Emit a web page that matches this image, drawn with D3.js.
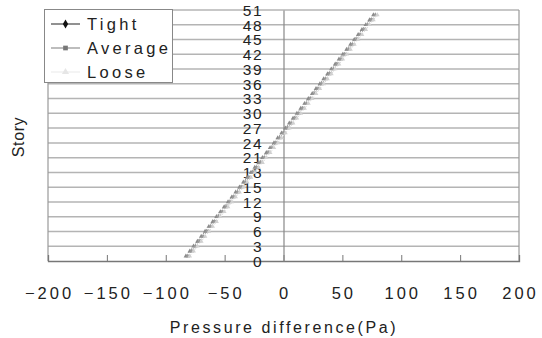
<!DOCTYPE html>
<html><head><meta charset="utf-8">
<script src="https://cdn.jsdelivr.net/npm/d3@7"></script>
<style>
html,body{margin:0;padding:0;background:#fff;}
text{font-family:"Liberation Sans",Arial,sans-serif;fill:#222;}
</style></head>
<body><svg id="c" width="542" height="338"></svg>
<script>
const stories = [1,2,3,4,5,6,7,8,9,10,11,12,13,14,15,16,17,18,19,20,21,22,23,24,25,26,27,28,29,30,31,32,33,34,35,36,37,38,39,40,41,42,43,44,45,46,47,48,49,50];
const tight = [-82.9,-79.6,-76.4,-73.1,-69.9,-66.6,-63.4,-60.1,-56.9,-53.6,-50.4,-47.1,-43.9,-40.6,-37.4,-34.1,-30.9,-27.6,-24.4,-21.1,-17.9,-14.6,-11.4,-8.1,-4.9,-1.6,1.6,4.9,8.1,11.4,14.6,17.9,21.1,24.4,27.6,30.9,34.1,37.4,40.6,43.9,47.1,50.4,53.6,56.9,60.1,63.4,66.6,69.9,73.1,76.4];
const average = [-81.3,-78.0,-74.8,-71.5,-68.3,-65.0,-61.8,-58.5,-55.3,-52.0,-48.8,-45.5,-42.3,-39.0,-35.8,-32.5,-29.3,-26.0,-22.8,-19.5,-16.3,-13.0,-9.8,-6.5,-3.3,0.0,3.3,6.5,9.8,13.0,16.3,19.5,22.8,26.0,29.3,32.5,35.8,39.0,42.3,45.5,48.8,52.0,55.3,58.5,61.8,65.0,68.3,71.5,74.8,78.0];
const loose = [-79.6,-76.3,-73.1,-69.8,-66.6,-63.3,-60.1,-56.8,-53.6,-50.3,-47.1,-43.8,-40.6,-37.3,-34.1,-30.8,-27.6,-24.3,-21.1,-17.8,-14.6,-11.3,-8.1,-4.8,-1.6,1.7,4.9,8.2,11.4,14.7,17.9,21.2,24.4,27.7,30.9,34.2,37.4,40.7,43.9,47.2,50.4,53.7,56.9,60.2,63.4,66.7,69.9,73.2,76.4,79.7];
const seriesNames = ["Tight","Average","Loose"];
const xTicks = [-200,-150,-100,-50,0,50,100,150,200];
const yTicks = [0,3,6,9,12,15,18,21,24,27,30,33,36,39,42,45,48,51];
const xTitle = "Pressure difference(Pa)";
const yTitle = "Story";

const svg = d3.select("#c");
const x = d3.scaleLinear().domain([-200,200]).range([48,519]);
const y = d3.scaleLinear().domain([0,51]).range([261,10]);

// plot styles (in plot) and legend styles
const plotStyles = [
  {line:"#9a9a9a", fill:"#8a8a8a", sym:d3.symbolTriangle, size:9},
  {line:"#aaaaaa", fill:"#999999", sym:d3.symbolTriangle, size:9},
  {line:"#d8d8d8", fill:"#d0d0d0", sym:d3.symbolTriangle, size:9}
];
const legStyles = [
  {line:"#555", fill:"#111", sym:d3.symbolDiamond, size:24},
  {line:"#999", fill:"#777", sym:d3.symbolSquare, size:22},
  {line:"#eeeeee", fill:"#e6e6e6", sym:d3.symbolTriangle, size:22}
];
const data = [tight, average, loose];

// gridlines
svg.append("g").selectAll("line").data(yTicks.slice(1)).join("line")
  .attr("x1", x(-200)).attr("x2", x(200))
  .attr("y1", d=>y(d)).attr("y2", d=>y(d))
  .attr("stroke", "#b4b4b4").attr("stroke-width", 1.5);
// plot border left/right
svg.append("line").attr("x1",x(200)).attr("x2",x(200)).attr("y1",y(51)).attr("y2",y(0)).attr("stroke","#999").attr("stroke-width",1.2);
svg.append("line").attr("x1",x(-200)).attr("x2",x(-200)).attr("y1",y(51)).attr("y2",y(0)).attr("stroke","#999").attr("stroke-width",1.2);

// x axis
const xAxis = svg.append("g").attr("transform", `translate(0,${y(0)})`)
  .call(d3.axisBottom(x).tickValues(xTicks).tickSize(-6).tickFormat(""));
xAxis.select(".domain").attr("stroke","#777").attr("stroke-width",1.3);
xAxis.selectAll(".tick line").attr("stroke","#777");
svg.append("g").selectAll("text").data(xTicks).join("text")
  .attr("x", d=>x(d)+1.5).attr("y", 299)
  .attr("text-anchor","middle").style("font-size","16.5px").style("letter-spacing","3px")
  .text(d=> d<0 ? "\u2212"+Math.abs(d) : d);

// y axis at x=0
const yAxis = svg.append("g").attr("transform", `translate(${x(0)},0)`)
  .call(d3.axisLeft(y).tickValues(yTicks).tickSize(0).tickPadding(22));
yAxis.select(".domain").attr("stroke","#888").attr("stroke-width",1.2);
yAxis.selectAll("text").style("font-size","15.5px").style("letter-spacing","1.6px").attr("dx","1.6").attr("dy","0.34em").style("font-family","'Liberation Sans',Arial,sans-serif").attr("fill","#222");

// series
const line = d3.line().x(d=>x(d[0])).y(d=>y(d[1]));
data.forEach((vals,i)=>{
  const pts = vals.map((v,j)=>[v, stories[j]]);
  const g = svg.append("g");
  g.append("path").datum(pts).attr("d", line).attr("fill","none")
    .attr("stroke", plotStyles[i].line).attr("stroke-width", 1).attr("stroke-dasharray","2,2");
  g.selectAll("path.m").data(pts).join("path").attr("class","m")
    .attr("transform", d=>`translate(${x(d[0])},${y(d[1])})`)
    .attr("d", d3.symbol().type(plotStyles[i].sym).size(plotStyles[i].size))
    .attr("fill", plotStyles[i].fill);
});

// legend
const lg = svg.append("g");
lg.append("rect").attr("x",44.5).attr("y",9.5).attr("width",128).attr("height",73)
  .attr("fill","#fff").attr("stroke","#888").attr("stroke-width",1);
seriesNames.forEach((n,i)=>{
  const yy = 24 + i*24;
  lg.append("line").attr("x1",51).attr("x2",80).attr("y1",yy).attr("y2",yy)
    .attr("stroke", legStyles[i].line).attr("stroke-width",1.3);
  lg.append("path").attr("transform",`translate(65.5,${yy})`)
    .attr("d", d3.symbol().type(legStyles[i].sym).size(legStyles[i].size)).attr("fill", legStyles[i].fill);
  lg.append("text").attr("x",87).attr("y",yy+6).style("font-size","16.5px").style("letter-spacing","3.3px").text(n);
});

// titles
svg.append("text").attr("x", 284).attr("y", 333).attr("text-anchor","middle")
  .style("font-size","16px").style("letter-spacing","2.6px").text(xTitle);
svg.append("text").attr("transform","translate(24,137) rotate(-90)").attr("text-anchor","middle")
  .style("font-size","16px").style("letter-spacing","0.6px").text(yTitle);
</script></body></html>
